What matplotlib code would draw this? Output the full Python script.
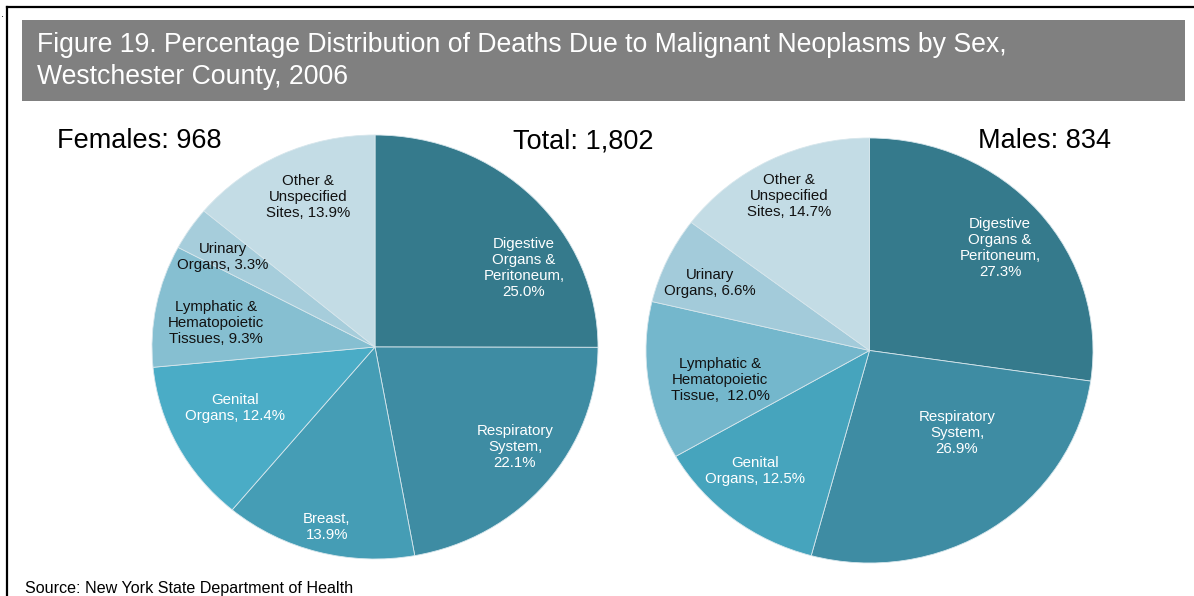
import matplotlib
matplotlib.use("Agg")
import matplotlib.pyplot as plt
from matplotlib.patches import Rectangle
from matplotlib.lines import Line2D

plt.rcParams['font.family'] = ['Liberation Sans', 'DejaVu Sans']

W, H = 1194, 596

title = "Figure 19. Percentage Distribution of Deaths Due to Malignant Neoplasms by Sex,\nWestchester County, 2006"
source = "Source: New York State Department of Health"

female_total = 968
male_total = 834
grand_total = 1802

female_categories = ["Digestive Organs & Peritoneum", "Respiratory System", "Breast",
                     "Genital Organs", "Lymphatic & Hematopoietic Tissues",
                     "Urinary Organs", "Other & Unspecified Sites"]
female_values = [25.0, 22.1, 13.9, 12.4, 9.3, 3.3, 13.9]
female_labels = ["Digestive\nOrgans &\nPeritoneum,\n{:.1f}%", "Respiratory\nSystem,\n{:.1f}%",
                 "Breast,\n{:.1f}%", "Genital\nOrgans, {:.1f}%",
                 "Lymphatic &\nHematopoietic\nTissues, {:.1f}%", "Urinary\nOrgans, {:.1f}%",
                 "Other &\nUnspecified\nSites, {:.1f}%"]
female_colors = ["#357a8c", "#3e8ca3", "#459db5", "#4aacc6", "#86bfd1", "#a6cddb", "#c3dce5"]
female_text_colors = ["white", "white", "white", "white", "#111111", "#111111", "#111111"]

male_categories = ["Digestive Organs & Peritoneum", "Respiratory System", "Genital Organs",
                   "Lymphatic & Hematopoietic Tissue", "Urinary Organs", "Other & Unspecified Sites"]
male_values = [27.3, 26.9, 12.5, 12.0, 6.6, 14.7]
male_labels = ["Digestive\nOrgans &\nPeritoneum,\n{:.1f}%", "Respiratory\nSystem,\n{:.1f}%",
               "Genital\nOrgans, {:.1f}%", "Lymphatic &\nHematopoietic\nTissue,  {:.1f}%",
               "Urinary\nOrgans, {:.1f}%", "Other &\nUnspecified\nSites, {:.1f}%"]
male_colors = ["#357a8c", "#3e8ca3", "#46a4bd", "#74b7cc", "#a3cbda", "#c3dce5"]
male_text_colors = ["white", "white", "white", "#111111", "#111111", "#111111"]

# layout (pixel positions)
female_geom = dict(cx=375, cy=347, rx=223, ry=212)
male_geom = dict(cx=869.5, cy=350.5, rx=223.5, ry=212.5)
female_label_px = [(524, 268), (515, 447), (327, 527), (235, 408), (216, 323), (223, 257), (308, 197)]
male_label_px = [(1000, 248), (957, 433), (755, 471), (720, 380), (710, 283), (789, 196)]


def fx(x):
    return x / W


def fy(y):
    return 1 - y / H


fig = plt.figure(figsize=(W / 100, H / 100), dpi=100)
fig.patch.set_facecolor("white")

# frame lines
fig.add_artist(Line2D([fx(7), fx(W)], [fy(7), fy(7)], color="black", lw=1.6, transform=fig.transFigure))
fig.add_artist(Line2D([fx(7), fx(7)], [fy(7), fy(H)], color="black", lw=1.6, transform=fig.transFigure))
fig.text(fx(1), fy(14), ".", fontsize=8, ha="left", va="center", color="black")

# title bar
fig.add_artist(Rectangle((fx(22), fy(101)), fx(1185) - fx(22), fy(20) - fy(101),
                         facecolor="#808080", edgecolor="none", transform=fig.transFigure))
fig.text(fx(37), fy(61), title, color="white", fontsize=19.2, ha="left", va="center", linespacing=1.27)


def draw_pie(geom, values, colors, labels, label_px, text_colors):
    cx, cy, rx, ry = geom["cx"], geom["cy"], geom["rx"], geom["ry"]
    ax = fig.add_axes([fx(cx - rx), fy(cy + ry), 2 * rx / W, 2 * ry / H])
    ax.pie(values, colors=colors, startangle=90, counterclock=False,
           wedgeprops=dict(edgecolor="#d6e6ec", linewidth=0.6))
    ax.set_aspect("auto")
    ax.set_xlim(-1, 1)
    ax.set_ylim(-1, 1)
    ax.axis("off")
    for lab, v, (px, py), tc in zip(labels, values, label_px, text_colors):
        ax.text((px - cx) / rx, -(py - cy) / ry, lab.format(v), ha="center", va="center",
                color=tc, fontsize=10.8, linespacing=1.17, multialignment="center")


draw_pie(female_geom, female_values, female_colors, female_labels, female_label_px, female_text_colors)
draw_pie(male_geom, male_values, male_colors, male_labels, male_label_px, male_text_colors)

fig.text(fx(57), fy(141), f"Females: {female_total}", fontsize=19.5, ha="left", va="center")
fig.text(fx(583), fy(141), f"Total: {grand_total:,}", fontsize=19.5, ha="center", va="center")
fig.text(fx(1111), fy(141), f"Males: {male_total}", fontsize=19.5, ha="right", va="center")
fig.text(fx(25), fy(589), source, fontsize=11.6, ha="left", va="center")

fig.savefig("out.png", dpi=100)
